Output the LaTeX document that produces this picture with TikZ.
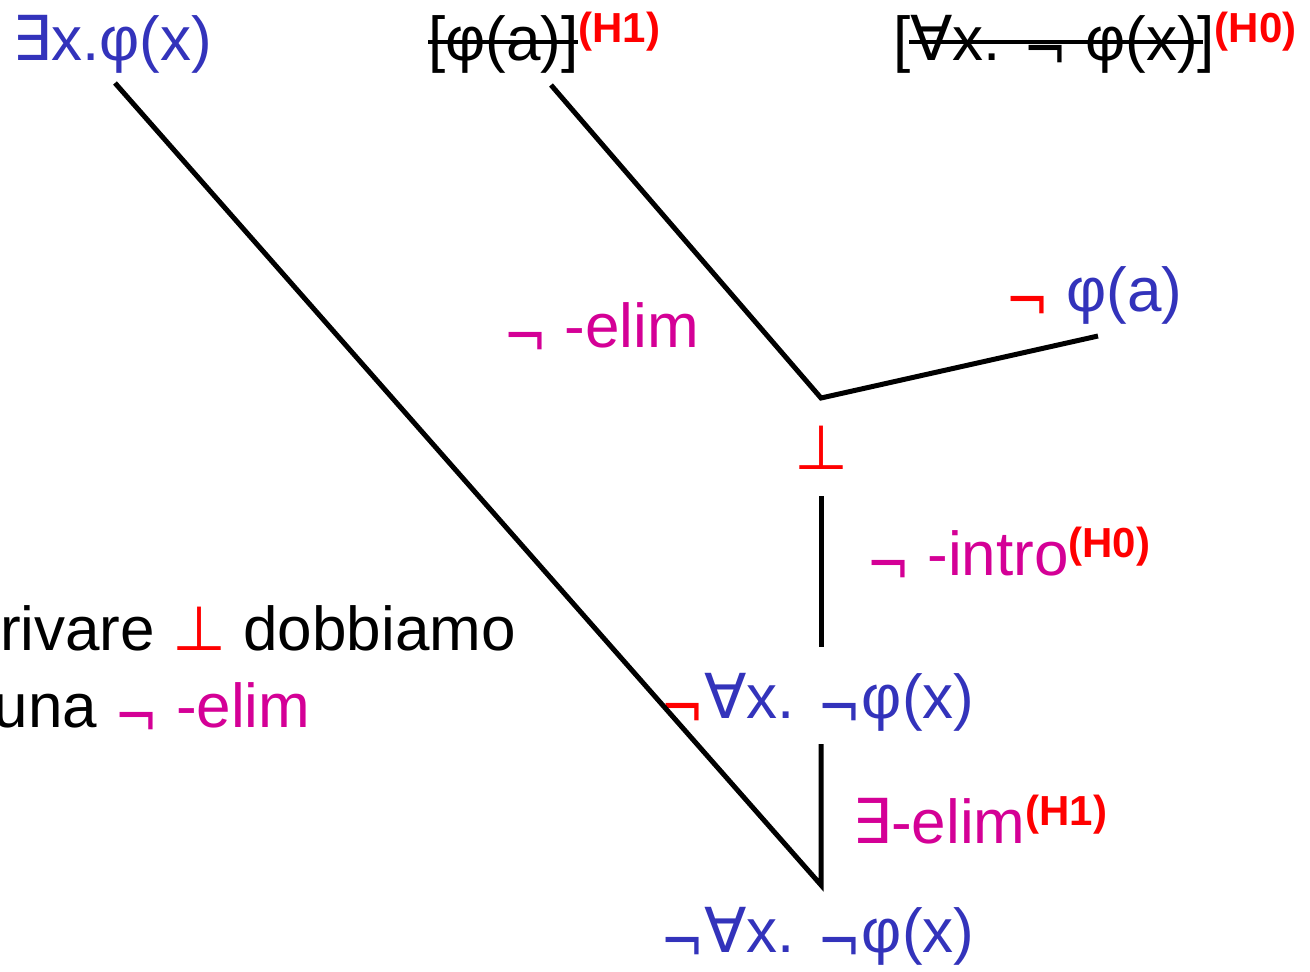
\documentclass[tikz,border=0pt]{standalone}
\usepackage{graphicx}
\usepackage{fontspec}
\setmainfont{Liberation Sans}
\newfontfamily\symf{DejaVu Sans}
\definecolor{fblue}{RGB}{51,51,187}
\definecolor{fmag}{RGB}{212,0,150}
\newcommand\Ng{\raisebox{-0.19em}{\scalebox{0.85}[1]{\symf ¬}}}
\newcommand\Ex{{\symf ∃}}
\newcommand\All{{\symf ∀}}
\newcommand\Bot{{\symf ⊥}}
\newcommand\Hyp[1]{\raisebox{9pt}{\fontsize{21}{21}\selectfont\bfseries\color{red}(#1)}}
\begin{document}
\begin{tikzpicture}[x=0.5pt,y=-0.5pt,
  every node/.style={inner sep=0pt,outer sep=0pt,font=\fontsize{31}{36}\selectfont},
  lbl/.style={anchor=base west},
  edge/.style={line width=2.5pt,line cap=butt},
  strike/.style={line width=1.8pt}]
\useasboundingbox (0,0) rectangle (1310,971);
% formulas
\node[lbl,text=fblue] (ex) at (12,60) {\Ex x.φ(x)};
\node[lbl] (sa) at (428,60) {[φ(a)]};
\node[lbl] (ha) at (sa.base east) {\Hyp{H1}};
\node[lbl] (sb) at (893,60) {[\All x. \Ng\ φ(x)]};
\node[lbl] (hb) at (sb.base east) {\Hyp{H0}};
\draw[strike] ([yshift=1pt]sa.west) -- ([yshift=1pt]sa.east);
\draw[strike] ([xshift=8pt,yshift=1pt]sb.west) -- ([xshift=-6pt,yshift=1pt]sb.east);
\node[lbl] (npa) at (1005,311) {{\color{red}\Ng}\ {\color{fblue}φ(a)}};
\node[lbl,text=fmag] (r1) at (503,347) {\Ng\ -elim};
\node[text=red] (fal) at (821,448) {\Bot};
\node[lbl,text=fmag] (r2) at (866,575) {\Ng\ -intro\Hyp{H0}};
\node[lbl,text=fblue] (mid) at (660,718) {{\color{red}\Ng}\All x. \Ng φ(x)};
\node[lbl,text=fmag] (r3) at (852,843) {\Ex-elim\Hyp{H1}};
\node[lbl,text=fblue] (bot) at (660,952) {\Ng\All x. \Ng φ(x)};
\node[lbl] (l1) at (0,650) {rivare {\color{red}\Bot} dobbiamo};
\node[lbl] (l2) at (-6,727) {una {\color{fmag}\Ng\ -elim}};
% tree lines
\coordinate (c1) at (115,83);
\coordinate (c0) at (821,885);
\coordinate (c2) at (821,744);
\coordinate (c3) at (551,85);
\coordinate (c4) at (821,398);
\coordinate (c5) at (1098,336);
\coordinate (c6) at (821,496);
\coordinate (c7) at (821,647);
\draw[edge,line join=miter] (c1) -- (c0) -- (c2);
\draw[edge] (c3) -- (c4) -- (c5);
\draw[edge] (c6) -- (c7);
\end{tikzpicture}
\end{document}
